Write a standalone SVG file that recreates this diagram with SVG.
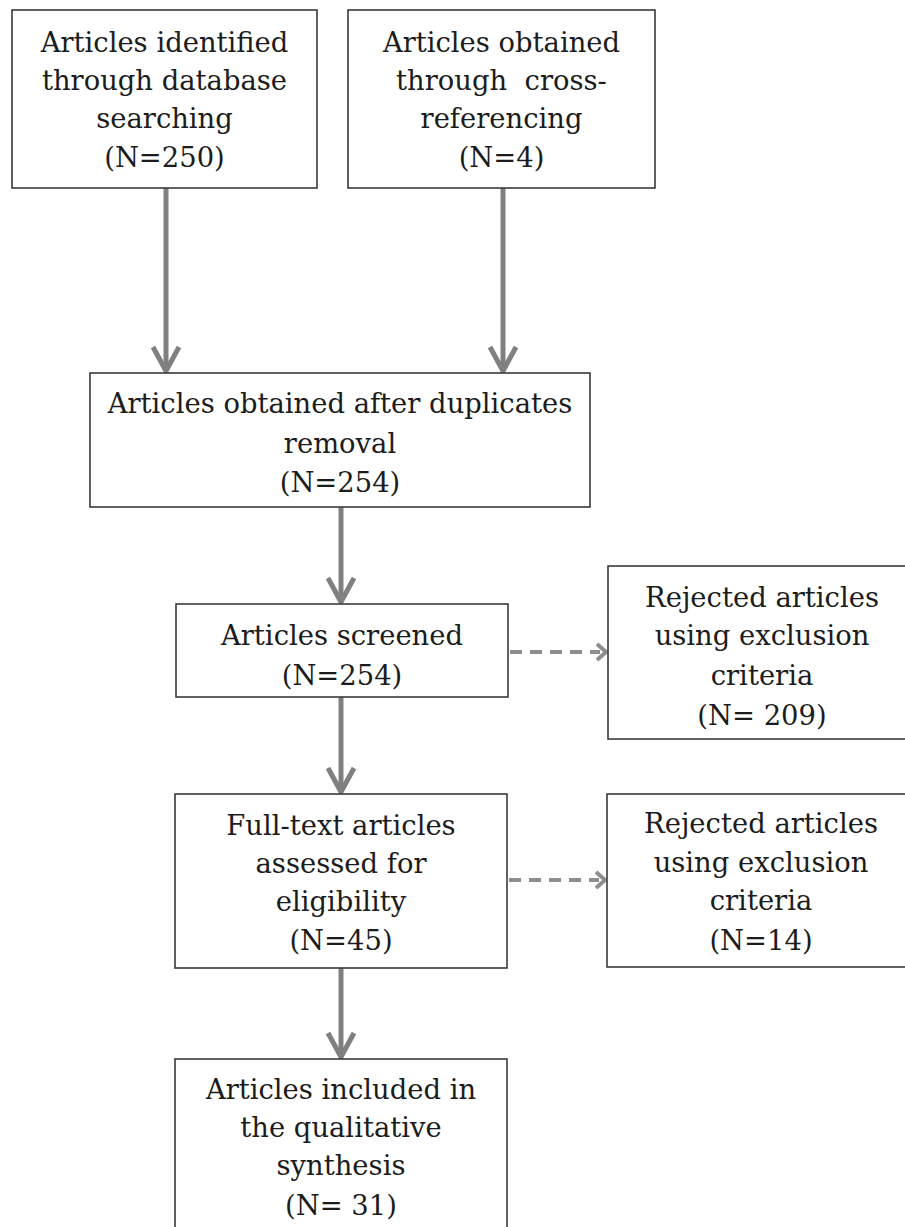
<svg xmlns="http://www.w3.org/2000/svg" width="905" height="1227" viewBox="0 0 905 1227">
<defs>
<style>
.box{fill:#fff;stroke:#3a3a3a;stroke-width:1.6}
.t{font-family:"DejaVu Serif","Liberation Serif",serif;font-size:27.4px;fill:#1c1c1c;text-anchor:middle}
.ar{fill:none;stroke:#808080;stroke-width:5}
.ah{fill:none;stroke:#808080;stroke-width:5;stroke-linejoin:miter}
.da{fill:none;stroke:#8e8e8e;stroke-width:4;stroke-dasharray:12 8}
.dh{fill:none;stroke:#8e8e8e;stroke-width:4}
</style>
</defs>
<rect width="905" height="1227" fill="#fff"/>
<g id="connectors">
<line class="ar" x1="166" y1="188" x2="166" y2="371"/>
<path class="ah" d="M153,347 L166,371 L179,347"/>
<line class="ar" x1="503" y1="188" x2="503" y2="371"/>
<path class="ah" d="M490,347 L503,371 L516,347"/>
<line class="ar" x1="341" y1="507" x2="341" y2="602"/>
<path class="ah" d="M328,578 L341,602 L354,578"/>
<line class="ar" x1="341" y1="697" x2="341" y2="792"/>
<path class="ah" d="M328,768 L341,792 L354,768"/>
<line class="ar" x1="341" y1="968" x2="341" y2="1057"/>
<path class="ah" d="M328,1033 L341,1057 L354,1033"/>
<line class="da" x1="510" y1="652" x2="600" y2="652"/>
<path class="dh" d="M597,644 L606,652 L597,660"/>
<line class="da" x1="509" y1="880" x2="599" y2="880"/>
<path class="dh" d="M596,872 L605,880 L596,888"/>
</g>
<g id="n1">
<rect class="box" x="12" y="10" width="305" height="178"/>
<text class="t" x="164.5" y="52">Articles identified</text>
<text class="t" x="164.5" y="90">through database</text>
<text class="t" x="164.5" y="128">searching</text>
<text class="t" x="164.5" y="167">(N=250)</text>
</g>
<g id="n2">
<rect class="box" x="348" y="10" width="307" height="178"/>
<text class="t" x="501.5" y="52">Articles obtained</text>
<text class="t" x="501.5" y="90" xml:space="preserve">through  cross-</text>
<text class="t" x="501.5" y="128">referencing</text>
<text class="t" x="501.5" y="167">(N=4)</text>
</g>
<g id="n3">
<rect class="box" x="90" y="373" width="500" height="134"/>
<text class="t" x="340" y="413">Articles obtained after duplicates</text>
<text class="t" x="340" y="453">removal</text>
<text class="t" x="340" y="492">(N=254)</text>
</g>
<g id="n4">
<rect class="box" x="176" y="604" width="332" height="93"/>
<text class="t" x="342" y="645">Articles screened</text>
<text class="t" x="342" y="685">(N=254)</text>
</g>
<g id="n5">
<rect class="box" x="608" y="566" width="310" height="173"/>
<text class="t" x="762" y="607">Rejected articles</text>
<text class="t" x="762" y="645">using exclusion</text>
<text class="t" x="762" y="685">criteria</text>
<text class="t" x="762" y="725">(N= 209)</text>
</g>
<g id="n6">
<rect class="box" x="175" y="794" width="332" height="174"/>
<text class="t" x="341" y="835">Full-text articles</text>
<text class="t" x="341" y="873">assessed for</text>
<text class="t" x="341" y="911">eligibility</text>
<text class="t" x="341" y="950">(N=45)</text>
</g>
<g id="n7">
<rect class="box" x="607" y="794" width="310" height="173"/>
<text class="t" x="761" y="833">Rejected articles</text>
<text class="t" x="761" y="872">using exclusion</text>
<text class="t" x="761" y="910">criteria</text>
<text class="t" x="761" y="950">(N=14)</text>
</g>
<g id="n8">
<rect class="box" x="175" y="1059" width="332" height="180"/>
<text class="t" x="341" y="1099">Articles included in</text>
<text class="t" x="341" y="1137">the qualitative</text>
<text class="t" x="341" y="1175">synthesis</text>
<text class="t" x="341" y="1215">(N= 31)</text>
</g>
</svg>
